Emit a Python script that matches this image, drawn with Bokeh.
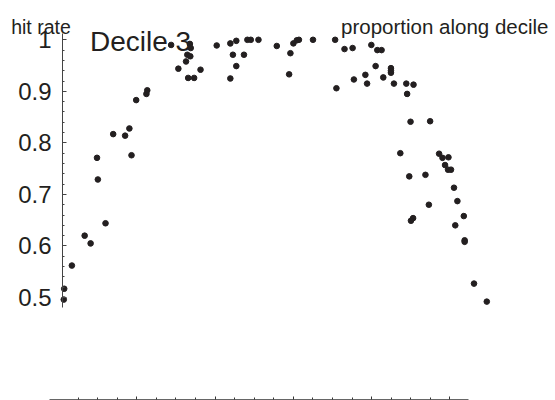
from bokeh.plotting import figure
from bokeh.models import Range1d, FixedTicker, Label, LinearAxis
from bokeh.embed import file_html
from bokeh.resources import INLINE

# proportion along decile (x) and hit rate (y)
proportion = [0.003, 0.004, 0.022, 0.052, 0.066, 0.083, 0.081, 0.101, 0.119, 0.147,
              0.157, 0.162, 0.173, 0.197, 0.199, 0.255, 0.272, 0.290, 0.293, 0.300,
              0.299, 0.301, 0.295, 0.309, 0.324, 0.362, 0.394, 0.408, 0.400, 0.426,
              0.408, 0.394, 0.434, 0.442, 0.460, 0.503, 0.535, 0.532, 0.542, 0.550,
              0.555, 0.588, 0.640, 0.662, 0.681, 0.643, 0.725, 0.739, 0.749, 0.735,
              0.771, 0.771, 0.771, 0.711, 0.753, 0.684, 0.715, 0.778, 0.807, 0.824,
              0.809, 0.817, 0.863, 0.793, 0.884, 0.892, 0.906, 0.898, 0.905, 0.912,
              0.814, 0.852, 0.919, 0.927, 0.860, 0.823, 0.818, 0.942, 0.922, 0.944,
              0.944, 0.966, 0.996]
hit_rate = [0.496, 0.517, 0.562, 0.620, 0.605, 0.729, 0.771, 0.644, 0.817, 0.814,
            0.828, 0.776, 0.883, 0.895, 0.902, 0.990, 0.944, 0.958, 0.971, 0.968,
            0.992, 0.984, 0.926, 0.926, 0.942, 0.989, 0.993, 0.998, 0.971, 0.971,
            0.949, 0.925, 1.000, 1.000, 1.000, 0.988, 0.974, 0.933, 0.993, 0.999,
            1.000, 1.000, 1.000, 0.982, 0.984, 0.906, 0.990, 0.980, 0.980, 0.949,
            0.945, 0.940, 0.936, 0.932, 0.927, 0.923, 0.915, 0.915, 0.915, 0.913,
            0.895, 0.841, 0.842, 0.780, 0.779, 0.771, 0.772, 0.757, 0.748, 0.748,
            0.735, 0.738, 0.713, 0.687, 0.680, 0.654, 0.649, 0.658, 0.640, 0.611,
            0.608, 0.527, 0.492]

y_ticks = [0.5, 0.6, 0.7, 0.8, 0.9, 1.0]
y_tick_labels = ["0.5", "0.6", "0.7", "0.8", "0.9", "1"]
y_minor = [0.52, 0.54, 0.56, 0.58, 0.62, 0.64, 0.66, 0.68, 0.72, 0.74, 0.76, 0.78,
           0.82, 0.84, 0.86, 0.88, 0.92, 0.94, 0.96, 0.98]
x_ticks = [0.2, 0.4, 0.6, 0.8, 1.0]
x_minor = [0.05, 0.1, 0.15, 0.25, 0.3, 0.35, 0.45, 0.5, 0.55, 0.65, 0.7, 0.75,
           0.85, 0.9, 0.95]

FONT = "Liberation Sans"
INK = "#231f20"

p = figure(width=555, height=400, output_backend="svg", toolbar_location=None,
           x_range=Range1d(-0.14554, 1.15728), y_range=Range1d(0.30016, 1.07625),
           x_axis_location=None, y_axis_location=None,
           min_border_left=0, min_border_top=0, min_border_right=0, min_border_bottom=0)
p.outline_line_color = None
p.grid.visible = False
p.background_fill_color = "white"
p.border_fill_color = "white"
p.extra_x_ranges = {"axis": Range1d(-0.14815, 1.26948)}

ax = LinearAxis(fixed_location=0.0, bounds=(0.4806, 1.0116))
ax.ticker = FixedTicker(ticks=y_ticks, minor_ticks=y_minor)
ax.major_label_overrides = dict(zip(y_ticks, y_tick_labels))
ax.major_label_text_font = FONT
ax.major_label_text_font_size = "24px"
ax.major_label_text_color = INK
ax.major_label_standoff = 11
ax.major_tick_in = 4
ax.major_tick_out = 0
ax.minor_tick_in = 2
ax.minor_tick_out = 0
ax.axis_line_color = "#444"
ax.major_tick_line_color = "#444"
ax.minor_tick_line_color = "#444"
p.add_layout(ax, "left")

bx = LinearAxis(x_range_name="axis", fixed_location=0.30307, bounds=(-0.023, 1.047))
bx.ticker = FixedTicker(ticks=x_ticks, minor_ticks=x_minor)
bx.major_label_text_color = None
bx.major_label_standoff = 0
bx.major_tick_in = 3
bx.major_tick_out = 0
bx.minor_tick_in = 2
bx.minor_tick_out = 0
bx.axis_line_color = "#666"
bx.major_tick_line_color = "#333"
bx.minor_tick_line_color = "#333"
p.add_layout(bx, "below")

p.scatter(proportion, hit_rate, size=5.6, color=INK, line_color=INK)

p.add_layout(Label(x=-0.0505, y=1.0258, text="hit rate", text_font=FONT,
                   text_font_size="19.5px", text_color=INK, text_align="center",
                   text_baseline="alphabetic"))
p.add_layout(Label(x=0.1831, y=0.9973, text="Decile 3", text_font=FONT,
                   text_font_size="28px", text_color=INK, text_align="center",
                   text_baseline="alphabetic"))
p.add_layout(Label(x=0.8974, y=1.0258, text="proportion along decile", text_font=FONT,
                   text_font_size="20.5px", text_color=INK, text_align="center",
                   text_baseline="alphabetic"))

open("out.html", "w").write(file_html(p, INLINE))
